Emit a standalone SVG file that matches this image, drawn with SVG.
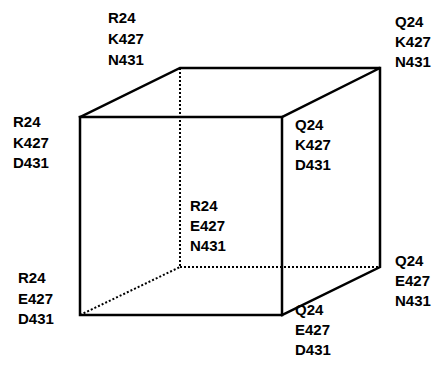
<svg xmlns="http://www.w3.org/2000/svg" width="445" height="368" viewBox="0 0 445 368">
<style>
.lbl{font-family:"Liberation Sans",Arial,sans-serif;font-weight:bold;font-size:15px;fill:#000}
.solid{stroke:#000;stroke-width:2.5;fill:none;stroke-linecap:square}
.hidden{stroke:#000;stroke-width:2;fill:none;stroke-dasharray:2 2}
</style>
<rect width="445" height="368" fill="#fff"/>
<g id="connectors">
<line class="hidden" x1="180" y1="68" x2="180" y2="267"/>
<line class="hidden" x1="180" y1="267" x2="380" y2="267"/>
<line class="hidden" x1="80" y1="315" x2="180" y2="267"/>
<rect class="solid" x="80" y="117" width="202" height="198"/>
<polyline class="solid" points="80,117 180,68 380,68 282,117"/>
<polyline class="solid" points="380,68 380,267 282,315"/>
</g>
<g id="n-back-top-left"><text class="lbl" x="108" y="23">R24</text><text class="lbl" x="108" y="44">K427</text><text class="lbl" x="108" y="65">N431</text></g>
<g id="n-back-top-right"><text class="lbl" x="395" y="27">Q24</text><text class="lbl" x="395" y="47">K427</text><text class="lbl" x="395" y="67">N431</text></g>
<g id="n-front-top-left"><text class="lbl" x="13" y="127">R24</text><text class="lbl" x="13" y="148">K427</text><text class="lbl" x="13" y="168">D431</text></g>
<g id="n-front-top-right"><text class="lbl" x="295" y="130">Q24</text><text class="lbl" x="295" y="150">K427</text><text class="lbl" x="295" y="170">D431</text></g>
<g id="n-back-bottom-left"><text class="lbl" x="190" y="211">R24</text><text class="lbl" x="190" y="231">E427</text><text class="lbl" x="190" y="251">N431</text></g>
<g id="n-front-bottom-left"><text class="lbl" x="18" y="283">R24</text><text class="lbl" x="18" y="304">E427</text><text class="lbl" x="18" y="324">D431</text></g>
<g id="n-back-bottom-right"><text class="lbl" x="395" y="266">Q24</text><text class="lbl" x="395" y="286">E427</text><text class="lbl" x="395" y="306">N431</text></g>
<g id="n-front-bottom-right"><text class="lbl" x="295" y="315">Q24</text><text class="lbl" x="295" y="335">E427</text><text class="lbl" x="295" y="355">D431</text></g>
</svg>
